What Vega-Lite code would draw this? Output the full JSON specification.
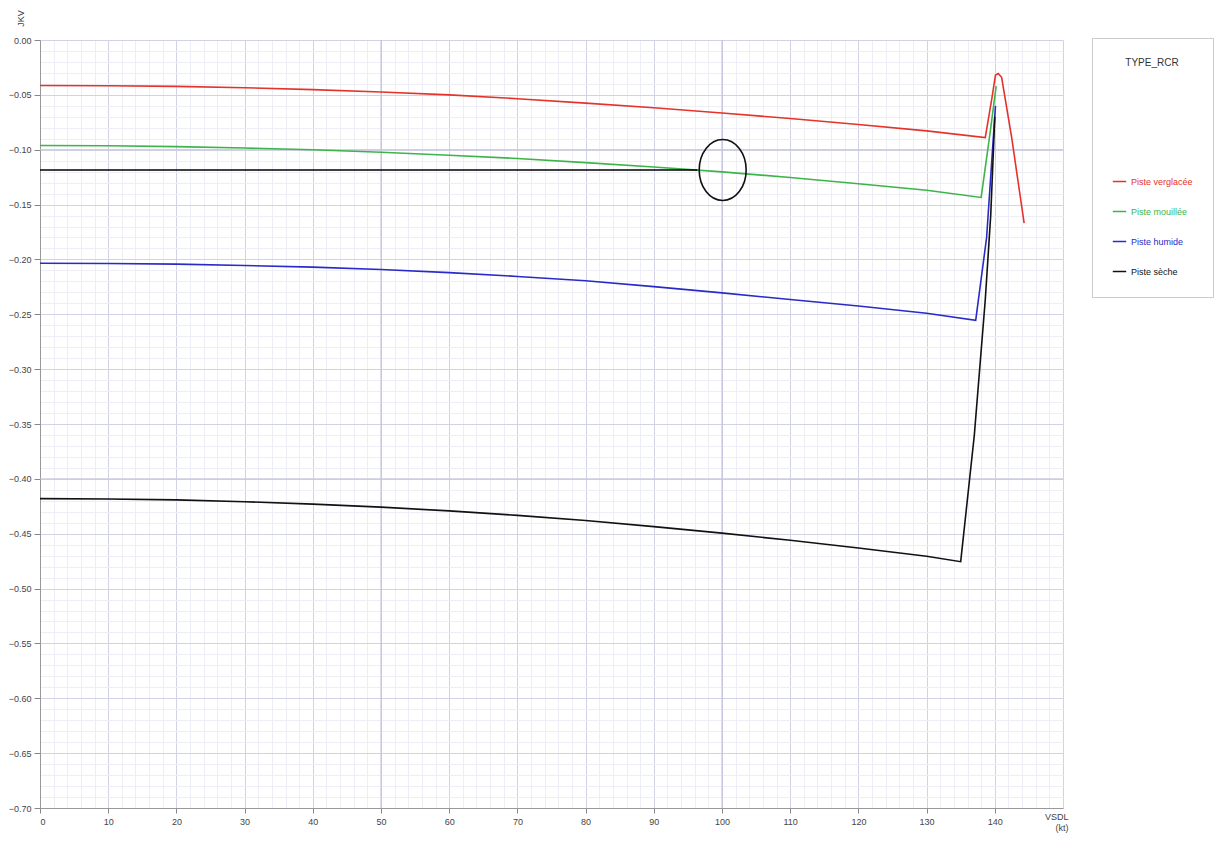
{
  "$schema": "https://vega.github.io/schema/vega-lite/v6.json",
  "autosize": {"type": "none"},
  "padding": {"left": 40, "top": 40, "right": 153, "bottom": 33},
  "width": 1023,
  "height": 768,
  "background": "white",
  "config": {
    "view": {"stroke": null},
    "font": "Liberation Sans",
    "axis": {"labelFont": "Liberation Sans", "titleFont": "Liberation Sans"}
  },
  "layer": [
    {
      "data": {"values": [{"gx": 50}, {"gx": 100}]},
      "mark": {"type": "rule", "color": "#bcbcdc", "strokeWidth": 1},
      "encoding": {"x": {"field": "gx", "type": "quantitative", "scale": {"domain": [0, 150]}}}
    },
    {
      "data": {"values": [{"gy": -0.1}, {"gy": -0.4}]},
      "mark": {"type": "rule", "color": "#c4c4dc", "strokeWidth": 1},
      "encoding": {"y": {"field": "gy", "type": "quantitative", "scale": {"domain": [-0.7, 0]}}}
    },
    {
      "data": {"values": [
        {"s": "Piste verglacée", "x": 0, "y": -0.0415},
        {"s": "Piste verglacée", "x": 10, "y": -0.0417},
        {"s": "Piste verglacée", "x": 20, "y": -0.0423},
        {"s": "Piste verglacée", "x": 30, "y": -0.0435},
        {"s": "Piste verglacée", "x": 40, "y": -0.0452},
        {"s": "Piste verglacée", "x": 50, "y": -0.0474},
        {"s": "Piste verglacée", "x": 60, "y": -0.050},
        {"s": "Piste verglacée", "x": 70, "y": -0.0535},
        {"s": "Piste verglacée", "x": 80, "y": -0.0575},
        {"s": "Piste verglacée", "x": 90, "y": -0.0618},
        {"s": "Piste verglacée", "x": 100, "y": -0.0665},
        {"s": "Piste verglacée", "x": 110, "y": -0.0715},
        {"s": "Piste verglacée", "x": 120, "y": -0.077},
        {"s": "Piste verglacée", "x": 130, "y": -0.0828},
        {"s": "Piste verglacée", "x": 138.6, "y": -0.089},
        {"s": "Piste verglacée", "x": 139.6, "y": -0.052},
        {"s": "Piste verglacée", "x": 140.1, "y": -0.032},
        {"s": "Piste verglacée", "x": 140.5, "y": -0.0305},
        {"s": "Piste verglacée", "x": 141.0, "y": -0.034},
        {"s": "Piste verglacée", "x": 142.5, "y": -0.090},
        {"s": "Piste verglacée", "x": 144.3, "y": -0.167},
        {"s": "Piste mouillée", "x": 0, "y": -0.0962},
        {"s": "Piste mouillée", "x": 10, "y": -0.0964},
        {"s": "Piste mouillée", "x": 20, "y": -0.0972},
        {"s": "Piste mouillée", "x": 30, "y": -0.0985},
        {"s": "Piste mouillée", "x": 40, "y": -0.100},
        {"s": "Piste mouillée", "x": 50, "y": -0.1023},
        {"s": "Piste mouillée", "x": 60, "y": -0.105},
        {"s": "Piste mouillée", "x": 70, "y": -0.108},
        {"s": "Piste mouillée", "x": 80, "y": -0.1118},
        {"s": "Piste mouillée", "x": 90, "y": -0.1158},
        {"s": "Piste mouillée", "x": 100, "y": -0.1202},
        {"s": "Piste mouillée", "x": 110, "y": -0.1253},
        {"s": "Piste mouillée", "x": 120, "y": -0.131},
        {"s": "Piste mouillée", "x": 130, "y": -0.137},
        {"s": "Piste mouillée", "x": 138.0, "y": -0.1435},
        {"s": "Piste mouillée", "x": 139.3, "y": -0.085},
        {"s": "Piste mouillée", "x": 140.2, "y": -0.042},
        {"s": "Piste humide", "x": 0, "y": -0.2035},
        {"s": "Piste humide", "x": 10, "y": -0.2037},
        {"s": "Piste humide", "x": 20, "y": -0.2043},
        {"s": "Piste humide", "x": 30, "y": -0.2055},
        {"s": "Piste humide", "x": 40, "y": -0.207},
        {"s": "Piste humide", "x": 50, "y": -0.2092},
        {"s": "Piste humide", "x": 60, "y": -0.212},
        {"s": "Piste humide", "x": 70, "y": -0.2155},
        {"s": "Piste humide", "x": 80, "y": -0.2195},
        {"s": "Piste humide", "x": 90, "y": -0.2248},
        {"s": "Piste humide", "x": 100, "y": -0.2305},
        {"s": "Piste humide", "x": 110, "y": -0.2365},
        {"s": "Piste humide", "x": 120, "y": -0.2425},
        {"s": "Piste humide", "x": 130, "y": -0.249},
        {"s": "Piste humide", "x": 137.2, "y": -0.2555},
        {"s": "Piste humide", "x": 138.8, "y": -0.18},
        {"s": "Piste humide", "x": 140.1, "y": -0.06},
        {"s": "Piste sèche", "x": 0, "y": -0.418},
        {"s": "Piste sèche", "x": 10, "y": -0.4183},
        {"s": "Piste sèche", "x": 20, "y": -0.4192},
        {"s": "Piste sèche", "x": 30, "y": -0.4208},
        {"s": "Piste sèche", "x": 40, "y": -0.423},
        {"s": "Piste sèche", "x": 50, "y": -0.4258},
        {"s": "Piste sèche", "x": 60, "y": -0.4292},
        {"s": "Piste sèche", "x": 70, "y": -0.4333},
        {"s": "Piste sèche", "x": 80, "y": -0.438},
        {"s": "Piste sèche", "x": 90, "y": -0.4435},
        {"s": "Piste sèche", "x": 100, "y": -0.4495},
        {"s": "Piste sèche", "x": 110, "y": -0.456},
        {"s": "Piste sèche", "x": 120, "y": -0.463},
        {"s": "Piste sèche", "x": 130, "y": -0.4705},
        {"s": "Piste sèche", "x": 135.0, "y": -0.4755},
        {"s": "Piste sèche", "x": 137.0, "y": -0.36},
        {"s": "Piste sèche", "x": 138.6, "y": -0.237},
        {"s": "Piste sèche", "x": 139.4, "y": -0.16},
        {"s": "Piste sèche", "x": 140.0, "y": -0.07}
      ]},
      "mark": {"type": "line", "strokeWidth": 1.6, "interpolate": "linear"},
      "encoding": {
        "x": {
          "field": "x", "type": "quantitative",
          "scale": {"domain": [0, 150], "nice": false, "zero": false},
          "axis": {
            "values": [0,2,4,6,8,10,12,14,16,18,20,22,24,26,28,30,32,34,36,38,40,42,44,46,48,50,52,54,56,58,60,62,64,66,68,70,72,74,76,78,80,82,84,86,88,90,92,94,96,98,100,102,104,106,108,110,112,114,116,118,120,122,124,126,128,130,132,134,136,138,140,142,144,146,148,150],
            "tickCount": 1000,
            "labelOverlap": false,
            "labelExpr": "datum.value % 10 === 0 && datum.value < 150 ? format(datum.value, 'd') : ''",
            "grid": true,
            "gridColor": {"condition": {"test": "datum.value % 10 === 0", "value": "#d2d2e6"}, "value": "#eeeef7"},
            "gridWidth": 1,
            "tickSize": {"condition": {"test": "datum.value % 10 === 0 && datum.value < 150", "value": 5}, "value": 0},
            "tickColor": "#888888",
            "domainColor": "#999999",
            "labelFontSize": 9,
            "labelColor": "#444444",
            "labelPadding": 4,
            "title": ["VSDL", "(kt)"],
            "titleFontSize": 9,
            "titleFontWeight": "normal",
            "titleColor": "#444444",
            "titleAnchor": "end",
            "titleAlign": "right",
            "titleX": 1028,
            "titleY": 4,
            "titleBaseline": "top",
            "titleLineHeight": 11
          }
        },
        "y": {
          "field": "y", "type": "quantitative",
          "scale": {"domain": [-0.7, 0], "nice": false, "zero": false},
          "axis": {
            "values": [0,-0.01,-0.02,-0.03,-0.04,-0.05,-0.06,-0.07,-0.08,-0.09,-0.1,-0.11,-0.12,-0.13,-0.14,-0.15,-0.16,-0.17,-0.18,-0.19,-0.2,-0.21,-0.22,-0.23,-0.24,-0.25,-0.26,-0.27,-0.28,-0.29,-0.3,-0.31,-0.32,-0.33,-0.34,-0.35,-0.36,-0.37,-0.38,-0.39,-0.4,-0.41,-0.42,-0.43,-0.44,-0.45,-0.46,-0.47,-0.48,-0.49,-0.5,-0.51,-0.52,-0.53,-0.54,-0.55,-0.56,-0.57,-0.58,-0.59,-0.6,-0.61,-0.62,-0.63,-0.64,-0.65,-0.66,-0.67,-0.68,-0.69,-0.7],
            "tickCount": 1000,
            "labelOverlap": false,
            "labelExpr": "round(datum.value * 100) % 5 === 0 ? format(datum.value, '.2f') : ''",
            "grid": true,
            "gridColor": {"condition": {"test": "round(datum.value * 100) % 5 === 0", "value": "#d2d2e6"}, "value": "#eeeef7"},
            "gridWidth": 1,
            "tickSize": {"condition": {"test": "round(datum.value * 100) % 5 === 0", "value": 6}, "value": 0},
            "tickColor": "#888888",
            "domainColor": "#999999",
            "labelFontSize": 9,
            "labelColor": "#444444",
            "labelPadding": 3,
            "title": "JKV",
            "titleFontSize": 9,
            "titleFontWeight": "normal",
            "titleColor": "#444444",
            "titleAngle": -90,
            "titleX": -20,
            "titleY": -22,
            "titleAlign": "center",
            "titleBaseline": "middle"
          }
        },
        "color": {
          "field": "s", "type": "nominal",
          "scale": {
            "domain": ["Piste verglacée", "Piste mouillée", "Piste humide", "Piste sèche"],
            "range": ["#e5332a", "#3cb44a", "#2a2ac8", "#111111"]
          },
          "legend": {
            "title": "TYPE_RCR",
            "orient": "none",
            "legendX": 1052,
            "legendY": -2,
            "padding": 20,
            "strokeColor": "#cccccc",
            "fillColor": "white",
            "titleFontSize": 10,
            "titleFontWeight": "normal",
            "titleColor": "#333333",
            "titlePadding": 106,
            "titleAnchor": "middle",
            "labelFontSize": 9,
            "symbolType": "stroke",
            "symbolSize": 180,
            "symbolStrokeWidth": 1.5,
            "rowPadding": 17,
            "labelLimit": 200,
            "encode": {
              "labels": {"update": {"fill": {"scale": "color", "field": "value"}}}
            }
          }
        }
      }
    },
    {
      "data": {"values": [{"x1": 0, "x2": 96.4, "y": -0.1185}]},
      "mark": {"type": "rule", "color": "#000000", "strokeWidth": 1.6},
      "encoding": {
        "x": {"field": "x1", "type": "quantitative"},
        "x2": {"field": "x2"},
        "y": {"field": "y", "type": "quantitative"}
      }
    },
    {
      "data": {"values": [{"x": 100.1, "y": -0.1185}]},
      "mark": {
        "type": "point",
        "shape": "M0,-1A0.77,1,0,1,1,0,1A0.77,1,0,1,1,0,-1Z",
        "size": 3721,
        "filled": false,
        "stroke": "#111111",
        "strokeWidth": 1.6,
        "opacity": 1
      },
      "encoding": {
        "x": {"field": "x", "type": "quantitative"},
        "y": {"field": "y", "type": "quantitative"}
      }
    }
  ]
}
